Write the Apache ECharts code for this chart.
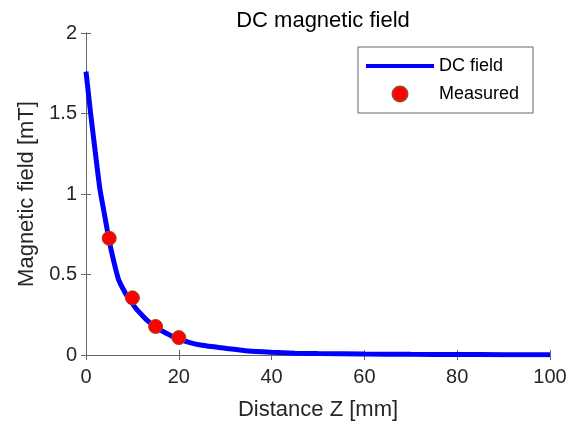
<!DOCTYPE html>
<html>
<head>
<meta charset="utf-8">
<script src="https://cdn.jsdelivr.net/npm/echarts@6/dist/echarts.min.js"></script>
<style>html,body{margin:0;padding:0;background:#fff}#c{width:578px;height:428px}</style>
</head>
<body>
<div id="c"></div>
<script>
var fieldZ = [0,1,2,3,4,5,6,7,8,9,10,11,12,13,14,15,16,17,18,19,20,22,25,30,35,40,45,50,60,70,80,90,100];
var fieldB = [1.76,1.50,1.26,1.03,0.87,0.71,0.58,0.47,0.41,0.36,0.32,0.28,0.25,0.22,0.195,0.17,0.155,0.14,0.125,0.11,0.10,0.08,0.06,0.042,0.025,0.017,0.011,0.009,0.006,0.004,0.003,0.002,0.001];
var measZ = [5,10,15,20];
var measB = [0.725,0.355,0.177,0.108];
var xTicks = [0,20,40,60,80,100];
var yTicks = [0,0.5,1,1.5,2];

var chart = echarts.init(document.getElementById('c'), null, {renderer:'canvas'});
var font = 'Liberation Sans, Arial, sans-serif';
var axisCol = '#666666';
function pairs(a,b){return a.map(function(v,i){return [v,b[i]];});}
var opt = {
  animation:false,
  backgroundColor:'#ffffff',
  title:{text:'DC magnetic field',left:318,textAlign:'center',top:5,
    textStyle:{fontFamily:font,fontSize:22,fontWeight:'normal',color:'#000'}},
  grid:{left:86,right:28,top:33,bottom:73},
  legend:{left:358,top:47,orient:'vertical',itemWidth:68,itemHeight:15,itemGap:10,
    padding:[10,14,10,8],borderColor:'#666',borderWidth:1,backgroundColor:'#fff',
    textStyle:{fontFamily:font,fontSize:18,color:'#000'},
    data:[{name:'DC field',icon:'path://M0,0H68V4H0Z',itemStyle:{color:'#0000ff'}},
          {name:'Measured',icon:'circle'}]},
  xAxis:[{type:'value',min:xTicks[0],max:xTicks[xTicks.length-1],interval:20,
    name:'Distance Z [mm]',nameLocation:'middle',nameGap:44,
    nameTextStyle:{fontFamily:font,fontSize:22,color:'#262626'},
    axisLine:{lineStyle:{color:axisCol,width:1}},
    axisTick:{inside:true,length:5,lineStyle:{color:axisCol}},
    axisLabel:{fontFamily:font,fontSize:20,color:'#262626',margin:12},
    splitLine:{show:false}},
   {type:'value',position:'top',min:0,max:100,interval:20,
    axisLine:{lineStyle:{color:axisCol,width:1}},
    axisTick:{inside:true,length:5,lineStyle:{color:axisCol}},
    axisLabel:{show:false},splitLine:{show:false}}],
  yAxis:[{type:'value',min:yTicks[0],max:yTicks[yTicks.length-1],interval:0.5,
    name:'Magnetic field [mT]',nameLocation:'middle',nameGap:46,
    nameTextStyle:{fontFamily:font,fontSize:22,color:'#262626'},
    axisLine:{show:true,lineStyle:{color:axisCol,width:1}},
    axisTick:{show:true,inside:true,length:5,lineStyle:{color:axisCol}},
    axisLabel:{fontFamily:font,fontSize:20,color:'#262626',margin:9},
    splitLine:{show:false}},
   {type:'value',position:'right',min:0,max:2,interval:0.5,
    axisLine:{show:true,lineStyle:{color:axisCol,width:1}},
    axisTick:{show:true,inside:true,length:5,lineStyle:{color:axisCol}},
    axisLabel:{show:false},splitLine:{show:false}}],
  series:[
    {name:'DC field',type:'line',data:pairs(fieldZ,fieldB),showSymbol:false,symbol:'none',smooth:0.2,
     lineStyle:{color:'#0000ff',width:5},itemStyle:{color:'#0000ff'},z:2},
    {name:'Measured',type:'scatter',data:pairs(measZ,measB),symbol:'circle',symbolSize:14,
     itemStyle:{color:'#ff0000',borderColor:'#a0461e',borderWidth:1,opacity:1},z:3}
  ]
};
chart.setOption(opt);
</script>
</body>
</html>
